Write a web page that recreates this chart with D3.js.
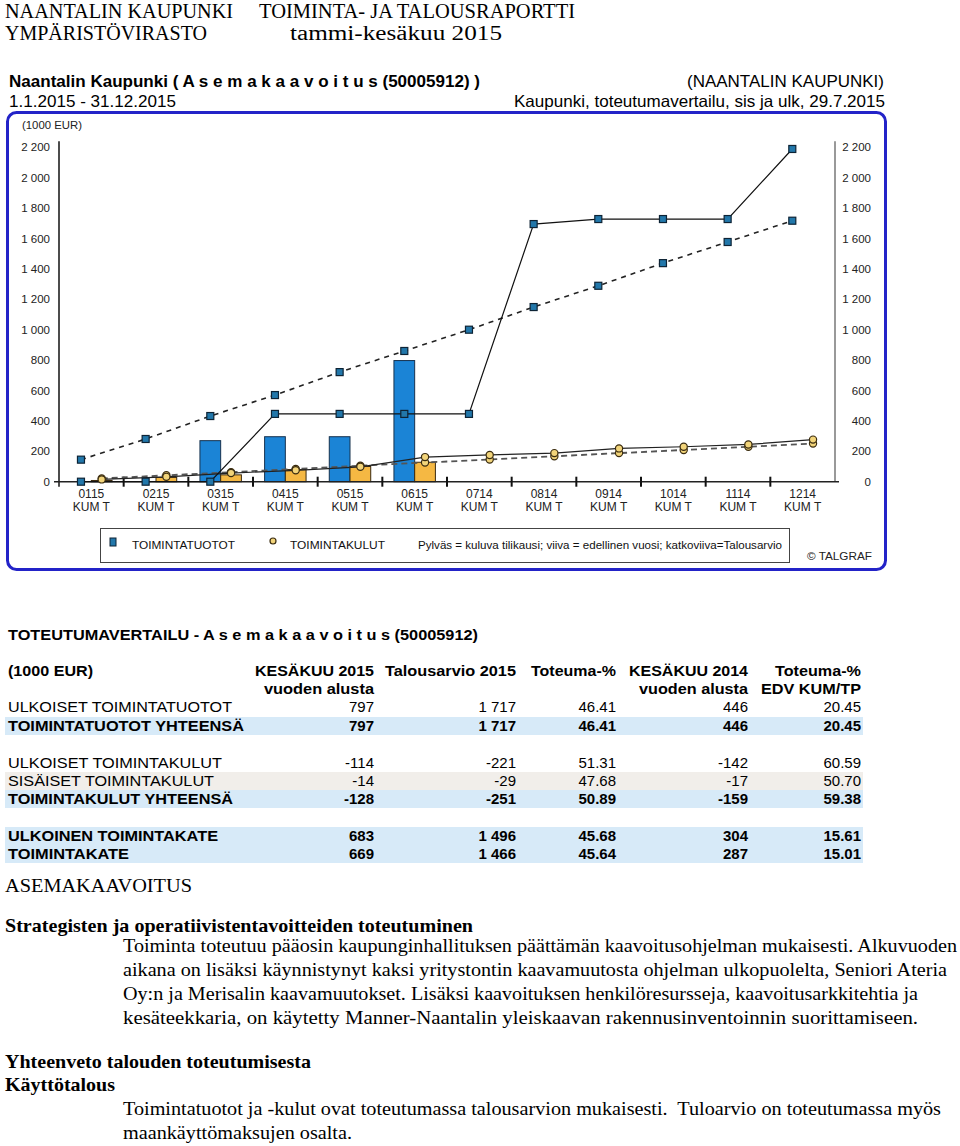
<!DOCTYPE html>
<html><head><meta charset="utf-8">
<script src="https://cdn.jsdelivr.net/npm/d3@7"></script>
<style>body{margin:0;background:#fff} svg{display:block} text{white-space:pre}</style>
</head><body><svg id="c" width="960" height="1146"></svg>
<script>
// ---------- DATA ----------
const categories = ["0115","0215","0315","0415","0515","0615","0714","0814","0914","1014","1114","1214"];
const catSub = "KUM T";
const tuotot2015 = [0, 0, 270, 296, 296, 797];          // bars, current year
const kulut2015 = [8, 28, 45, 80, 100, 128];             // bars, current year
const tuototPrev = [0, 0, 0, 446, 446, 446, 446, 1695, 1728, 1728, 1728, 2189];
const kulutPrev = [15, 32, 57, 75, 98, 162, 176, 188, 219, 230, 245, 277];
const tuototBudget = [145, 281, 432, 570, 721, 860, 1000, 1149, 1289, 1438, 1577, 1717];
const kulutBudget = [21, 42, 63, 84, 105, 126, 146, 167, 188, 209, 230, 251];
const yTicks = [0, 200, 400, 600, 800, 1000, 1200, 1400, 1600, 1800, 2000, 2200];

const tableRows = ["ULKOISET TOIMINTATUOTOT","TOIMINTATUOTOT YHTEENSÄ","","ULKOISET TOIMINTAKULUT","SISÄISET TOIMINTAKULUT","TOIMINTAKULUT YHTEENSÄ","","ULKOINEN TOIMINTAKATE","TOIMINTAKATE"];
const colKesa2015 = ["797","797","","-114","-14","-128","","683","669"];
const colBudget2015 = ["1 717","1 717","","-221","-29","-251","","1 496","1 466"];
const colToteuma = ["46.41","46.41","","51.31","47.68","50.89","","45.68","45.64"];
const colKesa2014 = ["446","446","","-142","-17","-159","","304","287"];
const colToteumaEdv = ["20.45","20.45","","60.59","50.70","59.38","","15.61","15.01"];
const tableHeaders = [["KESÄKUU 2015","vuoden alusta"],["Talousarvio 2015"],["Toteuma-%"],["KESÄKUU 2014","vuoden alusta"],["Toteuma-%","EDV KUM/TP"]];

// ---------- HELPERS ----------
const svg = d3.select("#c");
const SANS = "'Liberation Sans', Arial, sans-serif";
const SERIF = "'Liberation Serif', 'Times New Roman', serif";
function txt(g, x, y, s, o = {}) {
  const t = g.append("text").attr("x", x).attr("y", y).text(s)
    .attr("font-family", o.font || SANS)
    .attr("font-size", o.size || 12)
    .attr("font-weight", o.weight || "normal")
    .attr("text-anchor", o.anchor || "start")
    .attr("fill", o.fill || "#000");
  if (o.len) t.attr("textLength", o.len).attr("lengthAdjust", "spacingAndGlyphs");
  return t;
}

// ---------- PAGE HEADER ----------
txt(svg, 5, 18, "NAANTALIN KAUPUNKI", {font: SERIF, size: 20, len: 228});
txt(svg, 259, 18, "TOIMINTA- JA TALOUSRAPORTTI", {font: SERIF, size: 20, len: 316});
txt(svg, 5, 40, "YMPÄRISTÖVIRASTO", {font: SERIF, size: 20, len: 202});
txt(svg, 290, 40, "tammi-kesäkuu 2015", {font: SERIF, size: 20, len: 212});

// ---------- CHART ----------
txt(svg, 9, 87, "Naantalin Kaupunki ( A s e m a k a a v o i t u s (50005912) )", {size: 16.5, weight: "bold", len: 471});
txt(svg, 9, 107, "1.1.2015 - 31.12.2015", {size: 16.5, len: 167});
txt(svg, 884, 87, "(NAANTALIN KAUPUNKI)", {size: 16.5, anchor: "end", len: 197});
txt(svg, 885, 107, "Kaupunki, toteutumavertailu, sis ja ulk, 29.7.2015", {size: 16.5, anchor: "end", len: 371});

svg.append("rect").attr("x", 7.5).attr("y", 112.5).attr("width", 878).attr("height", 457)
  .attr("rx", 9).attr("fill", "#fff").attr("stroke", "#2323c8").attr("stroke-width", 3);

const x = d3.scaleBand().domain(categories).range([59, 835]).padding(0);
const y = d3.scaleLinear().domain([0, 2200]).range([481.7, 147.3]);
const sub = d3.scaleBand().domain(["tuotot", "kulut"]).range([0, x.bandwidth()]).paddingInner(0).paddingOuter(0.56);
const fmt = d3.formatLocale({decimal: ",", thousands: " ", grouping: [3], currency: ["", ""]}).format(",d");

const chart = svg.append("g");
txt(chart, 22, 129, "(1000 EUR)", {size: 11, fill: "#222", len: 60});

// y labels
yTicks.forEach(v => {
  txt(chart, 50, y(v) + 4, fmt(v), {size: 11.5, anchor: "end", fill: "#222"});
  txt(chart, 871, y(v) + 4, fmt(v), {size: 11.5, anchor: "end", fill: "#222"});
});

// bars
const barData2015 = categories.slice(0, tuotot2015.length).map((c, i) => ({c, tuotot: tuotot2015[i], kulut: kulut2015[i]}));
chart.selectAll(".bt").data(barData2015.filter(d => d.tuotot > 0)).join("rect")
  .attr("x", d => x(d.c) + sub("tuotot")).attr("width", sub.bandwidth())
  .attr("y", d => y(d.tuotot)).attr("height", d => y(0) - y(d.tuotot))
  .attr("fill", "#1b84d6").attr("stroke", "#17324e").attr("stroke-width", 1);
chart.selectAll(".bk").data(barData2015).join("rect")
  .attr("x", d => x(d.c) + sub("kulut")).attr("width", sub.bandwidth())
  .attr("y", d => y(d.kulut)).attr("height", d => y(0) - y(d.kulut))
  .attr("fill", "#f5b843").attr("stroke", "#3a2a10").attr("stroke-width", 1);

// axes
const y0 = y(0);
chart.append("line").attr("x1", 59).attr("x2", 59).attr("y1", y(2240)).attr("y2", y0 + 5).attr("stroke", "#111").attr("stroke-width", 1.5);
chart.append("line").attr("x1", 835).attr("x2", 835).attr("y1", y(2240)).attr("y2", y0).attr("stroke", "#777").attr("stroke-width", 1.5);
chart.append("line").attr("x1", 54).attr("x2", 839).attr("y1", y0).attr("y2", y0).attr("stroke", "#222").attr("stroke-width", 1.5);
categories.slice(1).forEach(c => {
  chart.append("line").attr("x1", x(c)).attr("x2", x(c)).attr("y1", y0 - 5).attr("y2", y0 + 5).attr("stroke", "#111").attr("stroke-width", 2);
});
categories.forEach(c => {
  const cx = x(c) + x.bandwidth() / 2;
  txt(chart, cx, 498, c, {size: 12, anchor: "middle", fill: "#222"});
  txt(chart, cx, 511, catSub, {size: 12, anchor: "middle", fill: "#222"});
});

// lines
const xt = c => x(c) + sub("tuotot") + sub.bandwidth() / 2;
const xk = c => x(c) + sub("kulut") + sub.bandwidth() / 2;
const lineT = d3.line().x((d, i) => xt(categories[i])).y(d => y(d));
const lineK = d3.line().x((d, i) => xk(categories[i])).y(d => y(d));
chart.append("path").attr("d", lineK(kulutBudget)).attr("fill", "none").attr("stroke", "#555").attr("stroke-width", 1.8).attr("stroke-dasharray", "6,4");
chart.append("path").attr("d", lineK(kulutPrev)).attr("fill", "none").attr("stroke", "#222").attr("stroke-width", 1.2);
chart.append("path").attr("d", lineT(tuototBudget)).attr("fill", "none").attr("stroke", "#222").attr("stroke-width", 1.6).attr("stroke-dasharray", "5,5");
chart.append("path").attr("d", lineT(tuototPrev)).attr("fill", "none").attr("stroke", "#111").attr("stroke-width", 1.2);

// markers
function squares(vals) {
  chart.append("g").selectAll("rect").data(vals).join("rect")
    .attr("x", (d, i) => xt(categories[i]) - 3.5).attr("y", d => y(d) - 3.5)
    .attr("width", 7).attr("height", 7)
    .attr("fill", "#2277aa").attr("stroke", "#0d2335").attr("stroke-width", 1.2);
}
function circles(vals) {
  chart.append("g").selectAll("circle").data(vals).join("circle")
    .attr("cx", (d, i) => xk(categories[i])).attr("cy", d => y(d)).attr("r", 3.6)
    .attr("fill", "#f2d47a").attr("stroke", "#3a2c10").attr("stroke-width", 1.2);
}
circles(kulutBudget); circles(kulutPrev);
squares(tuototBudget); squares(tuototPrev);

// legend
svg.append("rect").attr("x", 100.5).attr("y", 528.5).attr("width", 689).attr("height", 34)
  .attr("fill", "#fff").attr("stroke", "#444").attr("stroke-width", 1);
svg.append("rect").attr("x", 110).attr("y", 538).attr("width", 6).attr("height", 8).attr("fill", "#2277aa").attr("stroke", "#0d2335");
txt(svg, 132, 549, "TOIMINTATUOTOT", {size: 11, len: 103, fill: "#111"});
svg.append("circle").attr("cx", 273).attr("cy", 541).attr("r", 3).attr("fill", "#f2d47a").attr("stroke", "#3a2c10").attr("stroke-width", 1.2);
txt(svg, 290, 549, "TOIMINTAKULUT", {size: 11, len: 95, fill: "#111"});
txt(svg, 418, 549, "Pylväs = kuluva tilikausi; viiva = edellinen vuosi; katkoviiva=Talousarvio", {size: 11, len: 364, fill: "#111"});
txt(svg, 807, 560, "© TALGRAF", {size: 11, len: 65, fill: "#222"});

// ---------- TABLE ----------
const tbl = svg.append("g");
txt(tbl, 8, 640, "TOTEUTUMAVERTAILU - A s e m a k a a v o i t u s (50005912)", {size: 15.5, weight: "bold", len: 470});
txt(tbl, 8, 676, "(1000 EUR)", {size: 15, weight: "bold", len: 85});
const colRight = [374, 516, 616, 748, 861];
const hdrLens = [[119, 110], [131], [85], [119, 109], [86, 100]];
tableHeaders.forEach((h, j) => h.forEach((s, k) => txt(tbl, colRight[j], 676 + k * 18, s, {size: 15, weight: "bold", anchor: "end", len: hdrLens[j][k]})));

const rowBase = [712, 731, 0, 768, 786, 804, 0, 841, 859];
const rowBold = [false, true, false, false, false, true, false, true, true];
const rowLens = [224, 236, 0, 214, 206, 225, 0, 210, 121];
const rowBg = ["none", "#d7eaf8", "none", "none", "#f1eeea", "#d7eaf8", "none", "#d7eaf8", "#d7eaf8"];
const cols = [colKesa2015, colBudget2015, colToteuma, colKesa2014, colToteumaEdv];
tableRows.forEach((r, i) => {
  if (!r) return;
  if (rowBg[i] !== "none") tbl.append("rect").attr("x", 5).attr("y", rowBase[i] - 14).attr("width", 858).attr("height", 18).attr("fill", rowBg[i]);
});
tableRows.forEach((r, i) => {
  if (!r) return;
  const w = rowBold[i] ? "bold" : "normal";
  txt(tbl, 8, rowBase[i], r, {size: 15, weight: w, len: rowLens[i]});
  cols.forEach((c, j) => txt(tbl, colRight[j], rowBase[i], c[i], {size: 15, weight: w, anchor: "end"}));
});

// ---------- BODY TEXT ----------
txt(svg, 5, 892, "ASEMAKAAVOITUS", {font: SERIF, size: 19, len: 187});
txt(svg, 5, 932, "Strategisten ja operatiivistentavoitteiden toteutuminen", {font: SERIF, size: 19, weight: "bold", len: 468});
const p1 = [
  ["Toiminta toteutuu pääosin kaupunginhallituksen päättämän kaavoitusohjelman mukaisesti. Alkuvuoden", 834],
  ["aikana on lisäksi käynnistynyt kaksi yritystontin kaavamuutosta ohjelman ulkopuolelta, Seniori Ateria", 824],
  ["Oy:n ja Merisalin kaavamuutokset. Lisäksi kaavoituksen henkilöresursseja, kaavoitusarkkitehtia ja", 795],
  ["kesäteekkaria, on käytetty Manner-Naantalin yleiskaavan rakennusinventoinnin suorittamiseen.", 795]
];
p1.forEach((l, i) => txt(svg, 123, 952 + i * 24, l[0], {font: SERIF, size: 19, len: l[1]}));
txt(svg, 5, 1068, "Yhteenveto talouden toteutumisesta", {font: SERIF, size: 19, weight: "bold", len: 306});
txt(svg, 5, 1091, "Käyttötalous", {font: SERIF, size: 19, weight: "bold", len: 110});
txt(svg, 123, 1115, "Toimintatuotot ja -kulut ovat toteutumassa talousarvion mukaisesti.  Tuloarvio on toteutumassa myös", {font: SERIF, size: 19, len: 818});
txt(svg, 123, 1139, "maankäyttömaksujen osalta.", {font: SERIF, size: 19, len: 229});
</script></body></html>
